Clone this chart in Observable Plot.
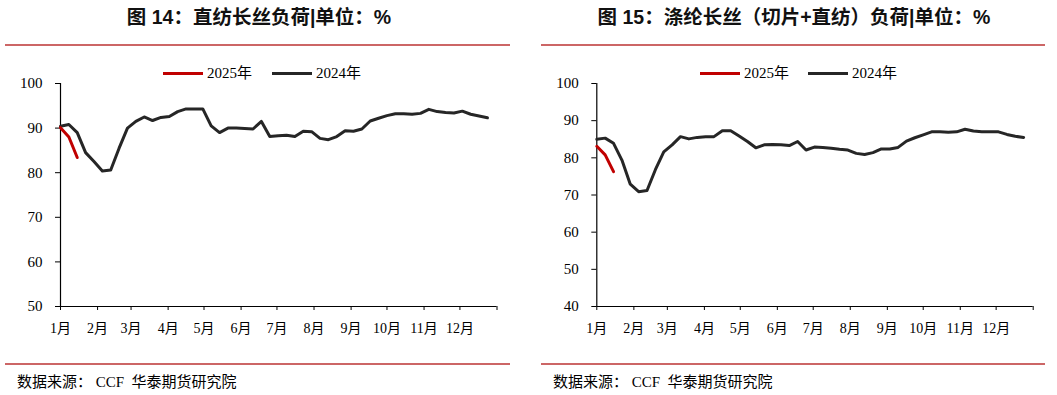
<!DOCTYPE html>
<html><head><meta charset="utf-8">
<script src="https://cdn.jsdelivr.net/npm/d3@7"></script>
<script src="https://cdn.jsdelivr.net/npm/@observablehq/plot@0.6"></script>
<style>
body{margin:0;background:#fff;}
#page{position:relative;width:1057px;height:395px;overflow:hidden;font-family:"Liberation Serif","Noto Sans CJK SC",serif;color:#000;}
.title{position:absolute;top:6px;font-weight:bold;font-size:19.5px;font-family:"Liberation Sans","Noto Sans CJK SC",sans-serif;white-space:nowrap;transform:translateX(-50%);line-height:22px;color:#111;}
.rule{position:absolute;height:2px;background:#cc6666;}
.leg{position:absolute;top:64px;font-size:15px;line-height:18px;display:flex;align-items:center;white-space:nowrap;}
.sw{display:inline-block;width:40px;height:3px;margin-right:4px;}
.src{position:absolute;top:373px;font-size:15px;line-height:18px;white-space:nowrap;}
.chart{position:absolute;top:60px;}
</style></head>
<body><div id="page"></div>
<script>
// ---- data ----
const monthLabels = ["1月","2月","3月","4月","5月","6月","7月","8月","9月","10月","11月","12月"];
const seriesNames = ["2025年","2024年"];
const seriesColors = ["#c00000","#262626"];
// 图14 直纺长丝负荷 (%), weekly
const direct2024 = [90.4,90.8,89.0,84.5,82.5,80.4,80.6,85.5,90.0,91.5,92.5,91.7,92.4,92.6,93.7,94.3,94.3,94.3,90.5,89.0,90.0,90.0,89.9,89.8,91.5,88.1,88.3,88.4,88.1,89.3,89.2,87.7,87.4,88.1,89.4,89.3,89.8,91.6,92.2,92.8,93.2,93.2,93.1,93.3,94.2,93.7,93.5,93.4,93.8,93.1,92.7,92.3];
const direct2025 = [90.1,88.0,83.4];
// 图15 涤纶长丝（切片+直纺）负荷 (%), weekly
const total2024 = [85.0,85.3,83.9,79.4,72.9,70.9,71.2,76.8,81.6,83.5,85.7,85.1,85.5,85.7,85.7,87.3,87.3,85.9,84.4,82.7,83.5,83.6,83.5,83.3,84.4,82.1,82.9,82.8,82.6,82.3,82.1,81.2,80.9,81.4,82.4,82.4,82.8,84.5,85.4,86.2,87.0,87.0,86.9,87.0,87.7,87.2,87.0,87.0,87.0,86.3,85.8,85.5];
const total2025 = [83.1,80.8,76.3];
const leftTicks = [50,60,70,80,90,100];
const rightTicks = [40,50,60,70,80,90,100];
const titles = ["图 14：直纺长丝负荷|单位：%","图 15：涤纶长丝（切片+直纺）负荷|单位：%"];
const source = "数据来源：&nbsp;CCF&nbsp;&nbsp;华泰期货研究院";

// ---- build ----
const x0 = new Date(Date.UTC(2025,0,1)), x1 = new Date(Date.UTC(2026,0,1));
const weekDate = i => d3.utcDay.offset(x0, 7*i);
const monthTicks = d3.utcMonth.range(x0, d3.utcDay.offset(x1,1));
const page = document.getElementById("page");

function chart(s2024, s2025, ticks, left, width, mLeft, mRight) {
  const a = s2024.map((v,i)=>({date:weekDate(i), v}));
  const b = s2025.map((v,i)=>({date:weekDate(i), v}));
  const svg = Plot.plot({
    width, height: 290,
    marginLeft: mLeft, marginRight: mRight, marginTop: 23, marginBottom: 44,
    style:{fontFamily:'"Liberation Serif","Noto Sans CJK SC",serif', fontSize:"15px", color:"#000", background:"transparent", overflow:"visible"},
    x:{type:"utc", domain:[x0,x1]},
    y:{domain:[ticks[0], ticks[ticks.length-1]]},
    marks:[
      Plot.axisY({ticks, tickSize:5, tickPadding:13, tickFormat:d=>String(d), label:null, fontSize:15, stroke:"#000"}),
      Plot.axisX({ticks:monthTicks, tickSize:4, tickPadding:13, tickFormat:d=>d.getUTCFullYear()>2025?"":monthLabels[d.getUTCMonth()], label:null, fontSize:14, stroke:"#000"}),
      Plot.ruleX([x0],{stroke:"#000", strokeWidth:1.2}),
      Plot.ruleY([ticks[0]],{stroke:"#000", strokeWidth:1.2}),
      Plot.line(a,{x:"date", y:"v", stroke:seriesColors[1], strokeWidth:3, curve:"linear"}),
      Plot.line(b,{x:"date", y:"v", stroke:seriesColors[0], strokeWidth:3, curve:"linear"})
    ]
  });
  svg.classList.add("chart");
  svg.style.left = left + "px";
  page.appendChild(svg);
}

function html(cls, style, inner){ const d=document.createElement("div"); d.className=cls; d.setAttribute("style",style); d.innerHTML=inner; page.appendChild(d); }

// panel 1
html("title","left:259px;",titles[0]);
html("rule","left:5px;top:44px;width:505px;","");
html("leg","left:163px;",`<span class="sw" style="background:${seriesColors[0]}"></span>${seriesNames[0]}`);
html("leg","left:272px;",`<span class="sw" style="background:${seriesColors[1]}"></span>${seriesNames[1]}`);
chart(direct2024, direct2025, leftTicks, 0, 528, 60, 31.5);
html("rule","left:5px;top:363px;width:505px;","");
html("src","left:17px;",source);
// panel 2
html("title","left:794px;",titles[1]);
html("rule","left:541px;top:44px;width:504px;","");
html("leg","left:700px;",`<span class="sw" style="background:${seriesColors[0]}"></span>${seriesNames[0]}`);
html("leg","left:808px;",`<span class="sw" style="background:${seriesColors[1]}"></span>${seriesNames[1]}`);
chart(total2024, total2025, rightTicks, 528, 529, 68.3, 24.3);
html("rule","left:541px;top:363px;width:504px;","");
html("src","left:553px;",source);
</script></body></html>
